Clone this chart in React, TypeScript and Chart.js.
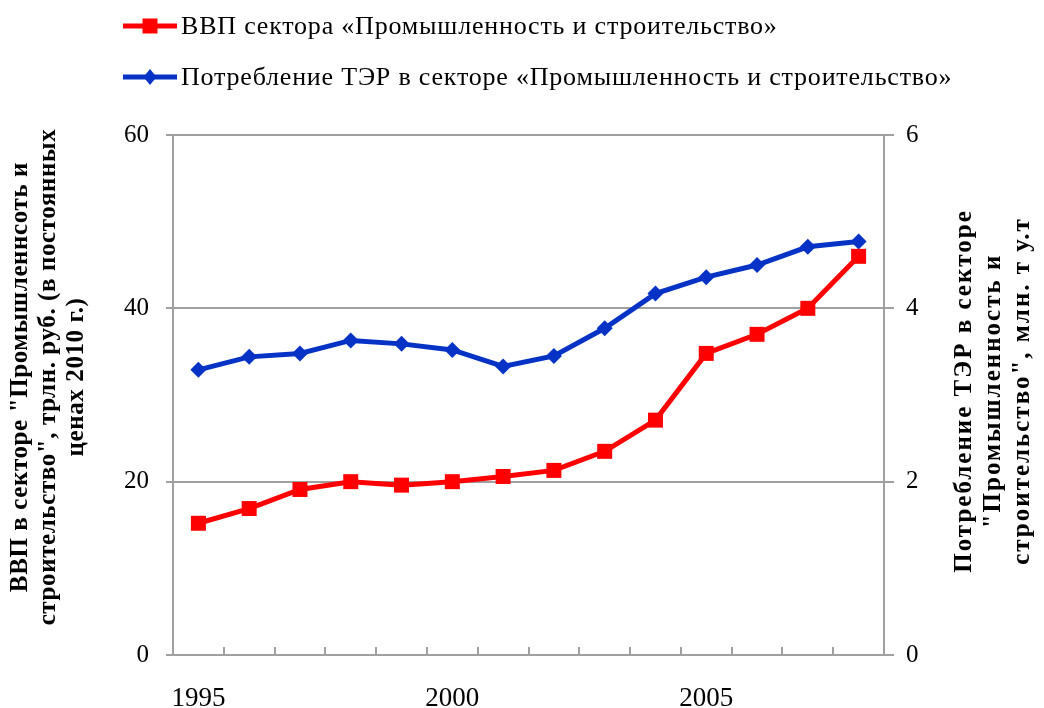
import React, { useEffect, useRef } from 'react';
import { Chart, registerables } from 'chart.js';

Chart.register(...registerables);

const years = ['1995', '1996', '1997', '1998', '1999', '2000', '2001', '2002', '2003', '2004', '2005', '2006', '2007', '2008'];
const shownYearLabels = ['1995', '2000', '2005'];
const gdpValues = [15.2, 16.9, 19.1, 20.0, 19.6, 20.0, 20.6, 21.3, 23.5, 27.1, 34.8, 37.0, 40.0, 46.0];
const fuelValues = [3.29, 3.44, 3.48, 3.63, 3.59, 3.52, 3.33, 3.45, 3.77, 4.17, 4.36, 4.5, 4.71, 4.77];
const gdpLabel = 'ВВП сектора «Промышленность и строительство»';
const fuelLabel = 'Потребление ТЭР в секторе «Промышленность и строительство»';
const leftTitle = ['ВВП в секторе "Промышленнсоть и', 'строительство", трлн. руб. (в постоянных', 'ценах 2010 г.)'];
const rightTitle = ['Потребление ТЭР в секторе', '"Промышленность и', 'строительство", млн. т у.т'];

const RED = '#ff0000';
const BLUE = '#0633c6';
const GRID = '#a0a0a0';
const FONT = '"Liberation Serif", "Times New Roman", serif';

function drawMarker(ctx: CanvasRenderingContext2D, kind: string, x: number, y: number, color: string) {
  ctx.fillStyle = color;
  ctx.beginPath();
  if (kind === 'rect') {
    ctx.rect(x - 7.5, y - 7.5, 15, 15);
  } else {
    ctx.moveTo(x, y - 8);
    ctx.lineTo(x + 6.5, y);
    ctx.lineTo(x, y + 8);
    ctx.lineTo(x - 6.5, y);
    ctx.closePath();
  }
  ctx.fill();
}

function setSpacing(ctx: CanvasRenderingContext2D, px: number) {
  (ctx as any).letterSpacing = `${px}px`;
}

const decorPlugin = {
  id: 'decor',
  afterDraw(chart: any) {
    const ctx: CanvasRenderingContext2D = chart.ctx;
    const { left, right, top, bottom } = chart.chartArea;
    const xs = chart.scales.x;
    ctx.save();

    // inner x-axis tick marks at category boundaries
    const step = (right - left) / years.length;
    ctx.strokeStyle = GRID;
    ctx.lineWidth = 2;
    for (let i = 0; i <= years.length; i++) {
      const x = Math.round(xs.getPixelForValue(0) - step / 2 + i * step);
      ctx.beginPath();
      ctx.moveTo(x, bottom);
      ctx.lineTo(x, bottom - 8);
      ctx.stroke();
    }

    // legend
    const items = [
      { label: gdpLabel, color: RED, kind: 'rect', y: 26 },
      { label: fuelLabel, color: BLUE, kind: 'diamond', y: 77 },
    ];
    ctx.font = `26px ${FONT}`;
    ctx.textBaseline = 'middle';
    ctx.textAlign = 'left';
    for (const it of items) {
      ctx.strokeStyle = it.color;
      ctx.lineWidth = 5;
      ctx.beginPath();
      ctx.moveTo(123, it.y);
      ctx.lineTo(177, it.y);
      ctx.stroke();
      drawMarker(ctx, it.kind, 150, it.y, it.color);
      ctx.fillStyle = '#000';
      setSpacing(ctx, 0.8);
      ctx.fillText(it.label, 181, it.y + 1);
      setSpacing(ctx, 0);
    }

    // axis titles (both read bottom-to-top)
    ctx.font = `bold 25px ${FONT}`;
    ctx.textAlign = 'center';
    ctx.fillStyle = '#000';
    const drawTitle = (lines: string[], cx: number, cy: number, lh: number, sp: number) => {
      ctx.save();
      ctx.translate(cx, cy);
      ctx.rotate(-Math.PI / 2);
      setSpacing(ctx, sp);
      lines.forEach((ln, i) => {
        ctx.fillText(ln, 0, (i - (lines.length - 1) / 2) * lh);
      });
      ctx.restore();
    };
    drawTitle(leftTitle, 49, (top + bottom) / 2 - 18, 28, 0.6);
    drawTitle(rightTitle, 994, (top + bottom) / 2 - 4, 29, 2);

    ctx.restore();
  },
};

export default function App() {
  const ref = useRef<HTMLCanvasElement | null>(null);

  useEffect(() => {
    if (!ref.current) return;
    Chart.defaults.color = '#000';
    const chart = new Chart(ref.current, {
      type: 'line',
      data: {
        labels: years,
        datasets: [
          {
            label: gdpLabel,
            data: gdpValues,
            yAxisID: 'y',
            borderColor: RED,
            backgroundColor: RED,
            borderWidth: 5,
            pointStyle: 'rect',
            pointRadius: 10.6,
            pointHoverRadius: 10.6,
            pointBorderWidth: 0,
            tension: 0,
            clip: false as any,
          },
          {
            label: fuelLabel,
            data: fuelValues,
            yAxisID: 'y1',
            borderColor: BLUE,
            backgroundColor: BLUE,
            borderWidth: 5,
            pointStyle: 'rectRot',
            pointRadius: 8,
            pointHoverRadius: 8,
            pointBorderWidth: 0,
            tension: 0,
            clip: false as any,
          },
        ],
      },
      options: {
        responsive: false,
        animation: false,
        devicePixelRatio: 1,
        layout: { padding: { top: 135, left: 0, right: 0, bottom: 0 } },
        plugins: {
          legend: { display: false },
          tooltip: { enabled: false },
        },
        scales: {
          x: {
            offset: true,
            afterFit: (s: any) => { s.height = 53; },
            grid: { display: true, drawOnChartArea: false, drawTicks: false, color: GRID },
            border: { display: true, color: GRID, width: 2 },
            ticks: {
              autoSkip: false,
              maxRotation: 0,
              padding: 28,
              font: { family: FONT, size: 27 },
              color: '#000',
              callback: (_v: any, i: number) => (shownYearLabels.includes(years[i]) ? years[i] : ''),
            },
          },
          y: {
            position: 'left',
            min: 0,
            max: 60,
            afterFit: (s: any) => { s.width = 173; },
            grid: { color: GRID, lineWidth: 2, tickLength: 7 },
            border: { display: true, color: GRID, width: 2 },
            ticks: { stepSize: 20, padding: 17, font: { family: FONT, size: 25 }, color: '#000' },
          },
          y1: {
            position: 'right',
            min: 0,
            max: 6,
            afterFit: (s: any) => { s.width = 160; },
            grid: { drawOnChartArea: false, color: GRID, lineWidth: 2, tickLength: 10 },
            border: { display: true, color: GRID, width: 2 },
            ticks: { stepSize: 2, padding: 12, font: { family: FONT, size: 25 }, color: '#000' },
          },
        },
      },
      plugins: [decorPlugin],
    });
    return () => chart.destroy();
  }, []);

  return (
    <div style={{ position: 'absolute', left: 0, top: 0, width: 1044, height: 708, background: '#fff' }}>
      <canvas ref={ref} width={1044} height={708} style={{ width: 1044, height: 708, display: 'block' }} />
    </div>
  );
}
